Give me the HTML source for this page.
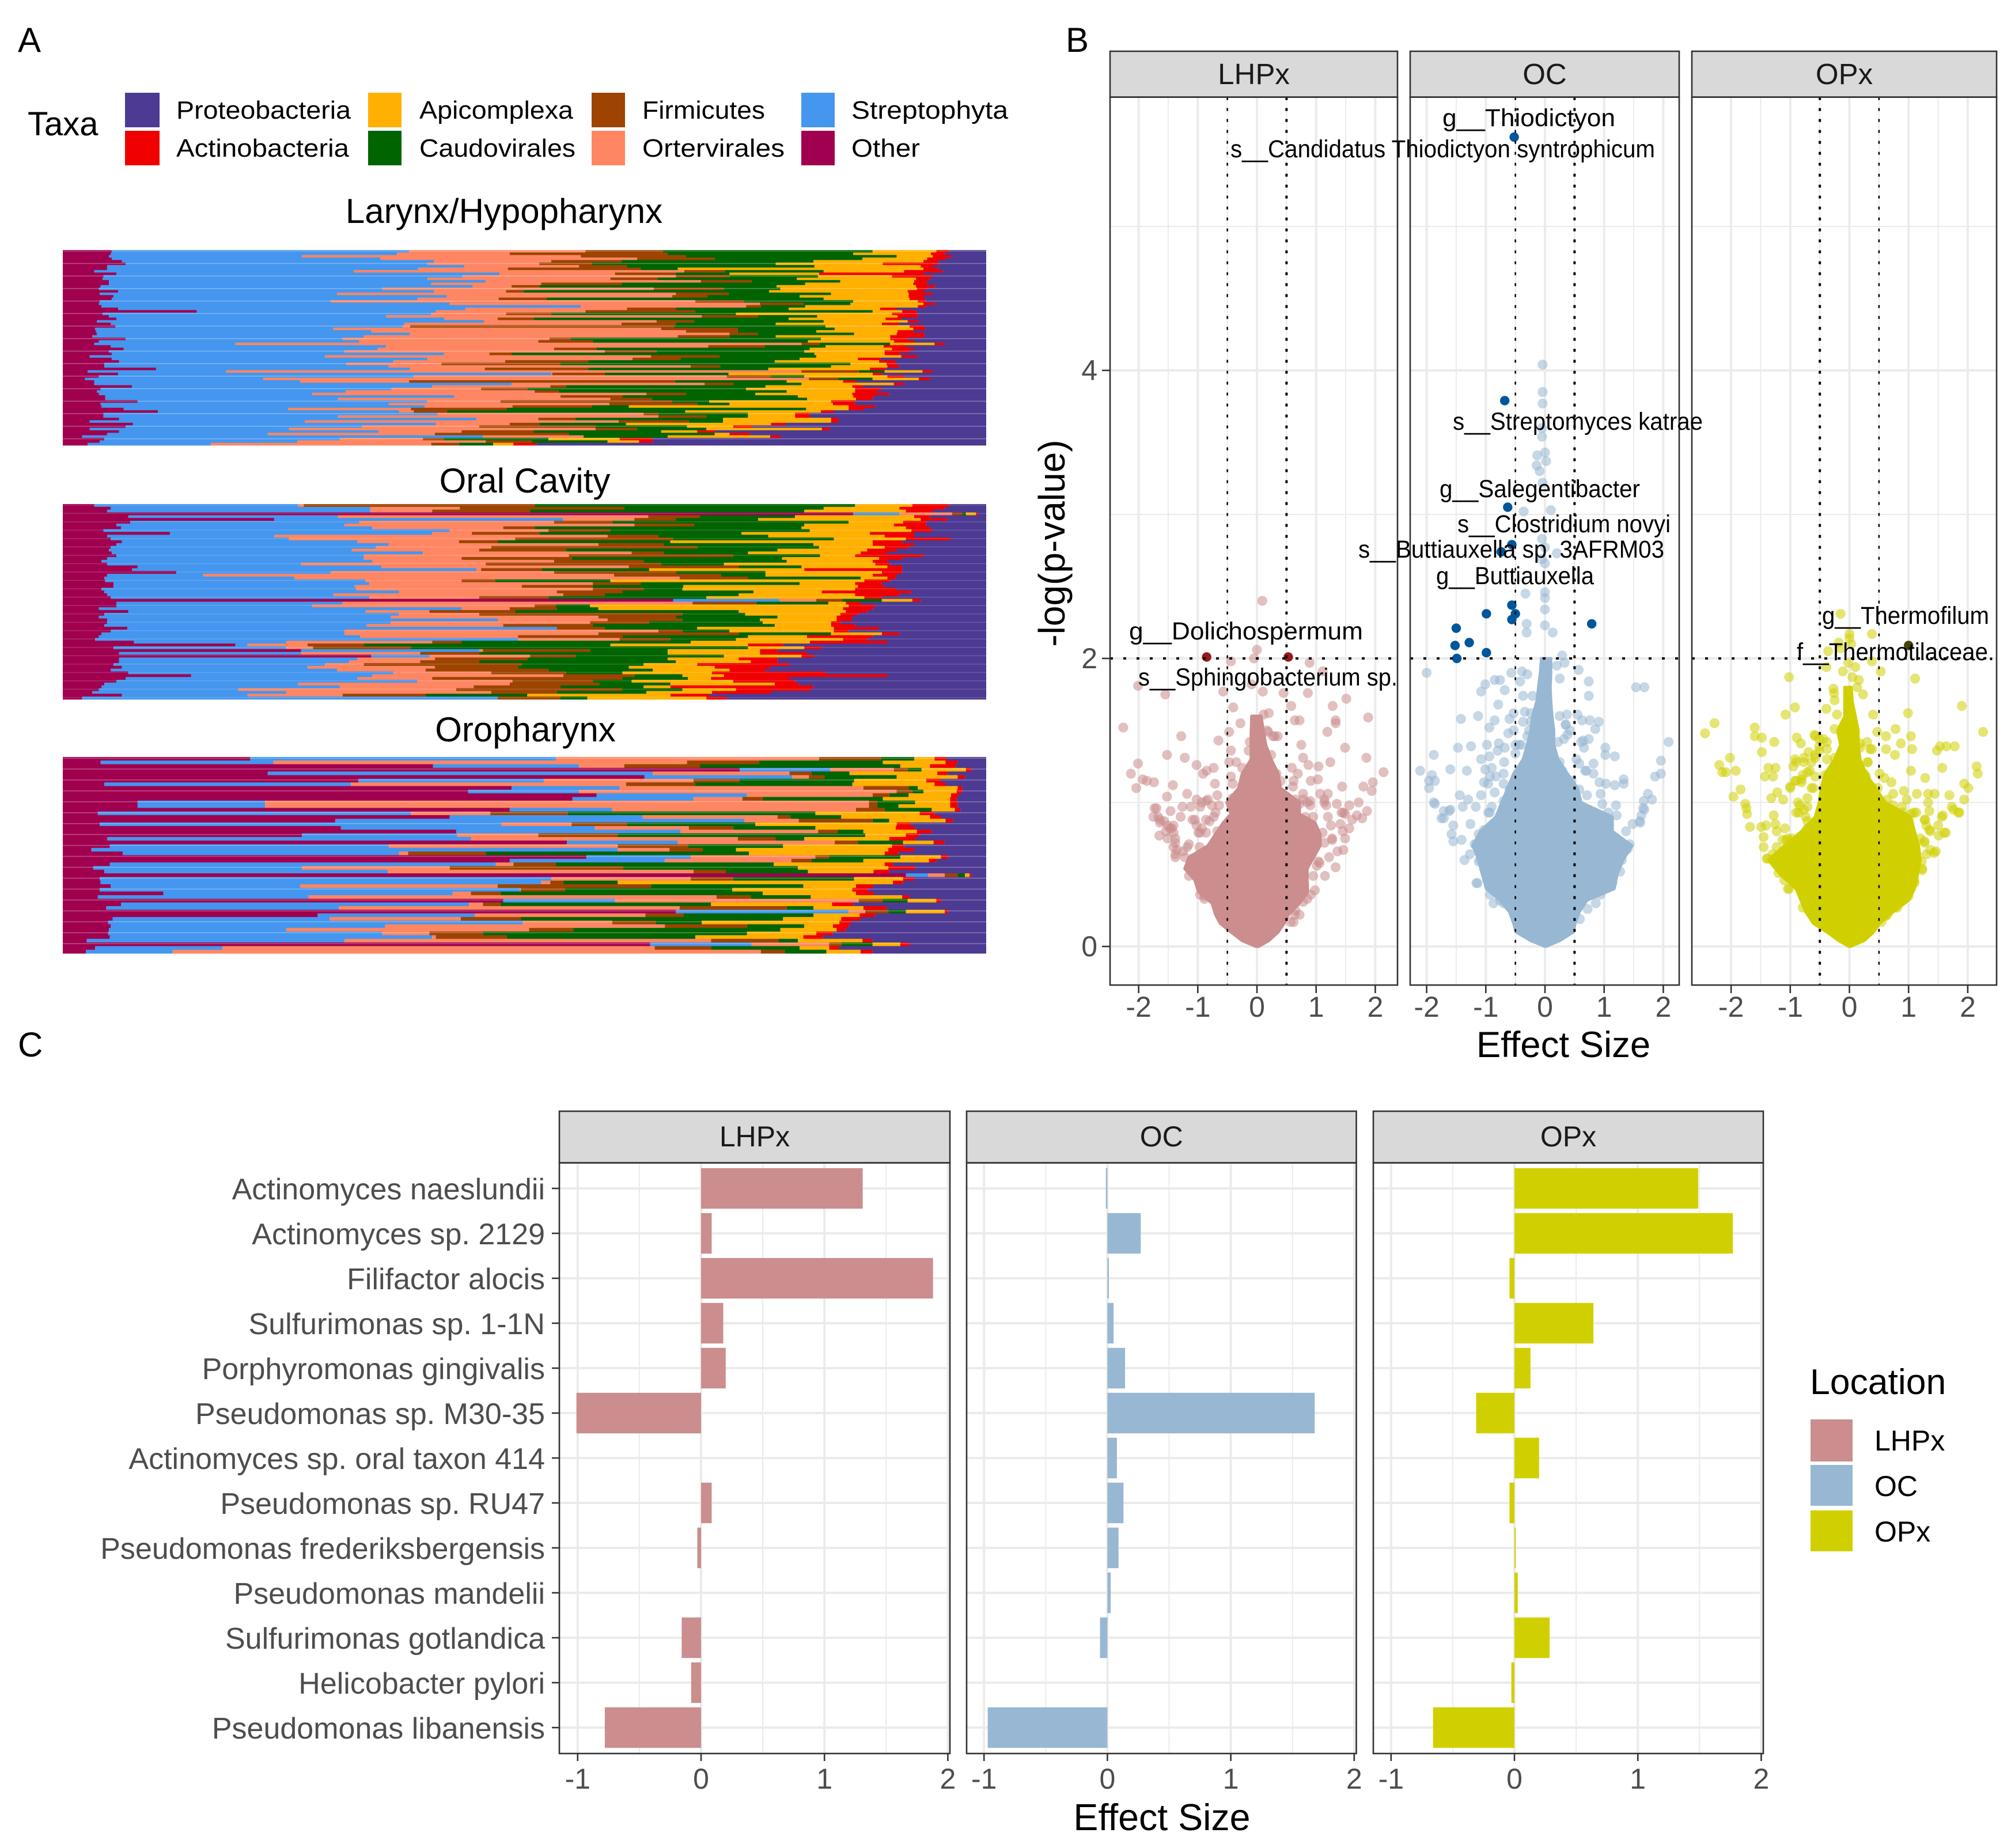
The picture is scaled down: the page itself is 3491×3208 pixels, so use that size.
<!DOCTYPE html>
<html lang="en">
<head>
<meta charset="utf-8">
<title>Taxa composition, volcano plots and effect sizes</title>
<style>
html,body{margin:0;padding:0;background:#fff}
svg{display:block}
text{font-family:"Liberation Sans",sans-serif}
</style>
</head>
<body>
<svg id="fig" xmlns="http://www.w3.org/2000/svg" width="3491" height="3208" viewBox="0 0 3491 3208">
<rect x="0" y="0" width="3491" height="3208" fill="#fff"/>
<g id="panelA"></g>
<g id="panelB"></g>
<g id="panelC"></g>

<text x="31" y="90" font-size="60" fill="#000">A</text>
<text x="1850" y="90" font-size="60" fill="#000">B</text>
<text x="31" y="1834" font-size="60" fill="#000">C</text>

<g font-size="44" fill="#000">
<text x="48" y="235" font-size="58">Taxa</text>
<rect x="217" y="161" width="60" height="60" fill="#4d3a92"/>
<rect x="217" y="227" width="60" height="60" fill="#f00000"/>
<rect x="639" y="161" width="58" height="60" fill="#ffb000"/>
<rect x="639" y="227" width="58" height="60" fill="#006400"/>
<rect x="1027" y="161" width="58" height="60" fill="#9c4400"/>
<rect x="1027" y="227" width="58" height="60" fill="#ff8662"/>
<rect x="1391" y="161" width="58" height="60" fill="#4496ee"/>
<rect x="1391" y="227" width="58" height="60" fill="#a0004f"/>
<text x="306" y="206" textLength="303" lengthAdjust="spacingAndGlyphs">Proteobacteria</text>
<text x="306" y="272" textLength="300" lengthAdjust="spacingAndGlyphs">Actinobacteria</text>
<text x="728" y="206" textLength="267" lengthAdjust="spacingAndGlyphs">Apicomplexa</text>
<text x="728" y="272" textLength="271" lengthAdjust="spacingAndGlyphs">Caudovirales</text>
<text x="1115" y="206" textLength="213" lengthAdjust="spacingAndGlyphs">Firmicutes</text>
<text x="1115" y="272" textLength="247" lengthAdjust="spacingAndGlyphs">Ortervirales</text>
<text x="1478" y="206" textLength="272" lengthAdjust="spacingAndGlyphs">Streptophyta</text>
<text x="1478" y="272" textLength="119" lengthAdjust="spacingAndGlyphs">Other</text>
</g>

<text x="875" y="387" font-size="60" text-anchor="middle" fill="#000">Larynx/Hypopharynx</text>
<text x="911" y="855" font-size="60" text-anchor="middle" fill="#000">Oral Cavity</text>
<text x="912" y="1287" font-size="60" text-anchor="middle" fill="#000">Oropharynx</text>

<text transform="translate(1848,943) rotate(-90)" font-size="64" text-anchor="middle" fill="#000">-log(p-value)</text>
<text x="2714" y="1835" font-size="63.5" text-anchor="middle" fill="#000">Effect Size</text>
<text x="2017" y="3177" font-size="64.5" text-anchor="middle" fill="#000">Effect Size</text>

<g font-size="43" fill="#000">
<text x="2504" y="219" textLength="300" lengthAdjust="spacingAndGlyphs">g__Thiodictyon</text>
<text x="2136" y="273" textLength="737" lengthAdjust="spacingAndGlyphs">s__Candidatus Thiodictyon syntrophicum</text>
<text x="2522" y="746" textLength="434" lengthAdjust="spacingAndGlyphs">s__Streptomyces katrae</text>
<text x="2499" y="863" textLength="348" lengthAdjust="spacingAndGlyphs">g__Salegentibacter</text>
<text x="2530" y="924" textLength="370" lengthAdjust="spacingAndGlyphs">s__Clostridium novyi</text>
<text x="2358" y="968" textLength="531" lengthAdjust="spacingAndGlyphs">s__Buttiauxella sp. 3AFRM03</text>
<text x="2493" y="1014" textLength="274" lengthAdjust="spacingAndGlyphs">g__Buttiauxella</text>
<text x="1960" y="1110" textLength="406" lengthAdjust="spacingAndGlyphs">g__Dolichospermum</text>
<text x="1976" y="1190" textLength="450" lengthAdjust="spacingAndGlyphs">s__Sphingobacterium sp.</text>
<text x="3163" y="1083" textLength="290" lengthAdjust="spacingAndGlyphs">g__Thermofilum</text>
<text x="3119" y="1146" textLength="343" lengthAdjust="spacingAndGlyphs">f__Thermotilaceae.</text>
</g>

<g fill="#000">
<text x="3142" y="2420" font-size="62.5">Location</text>
<rect x="3143" y="2464" width="73" height="73" fill="#cb8d8d"/>
<rect x="3143" y="2543" width="73" height="71" fill="#98b7d2"/>
<rect x="3143" y="2622" width="73" height="71" fill="#d0d000"/>
<text x="3254" y="2518" font-size="50">LHPx</text>
<text x="3254" y="2597" font-size="50">OC</text>
<text x="3254" y="2676" font-size="50">OPx</text>
</g>
</svg>

<script>
const taxaOrder = ['Other','Streptophyta','Ortervirales','Firmicutes','Caudovirales','Apicomplexa','Actinobacteria','Proteobacteria'];
const taxaColors = ['#a0004f','#4496ee','#ff8662','#9c4400','#006400','#ffb000','#f00000','#4d3a92'];

// Running composition per sample, per-mille, in taxaOrder; Proteobacteria fills the rest to 1000.
const larynxComposition = [
[53,375,566,650,877,946,960],[52,362,484,655,856,940,955],[50,259,561,675,903,942,963],[53,344,622,706,866,936,956],[64,402,529,605,813,932,948],[68,395,516,573,772,888,949],[48,435,559,611,814,929,942],[48,385,482,626,666,932,948],[34,315,673,717,824,911,953],[58,473,598,664,722,819,932],[44,433,664,722,818,898,942],[43,395,593,644,795,924,939],[50,458,691,746,842,922,936],[50,399,518,605,804,921,936],[41,444,486,516,773,924,945],
[39,346,640,716,777,925,936],[60,402,480,499,765,915,932],[40,297,664,721,832,916,942],[55,416,660,698,798,916,932],[53,384,472,524,824,917,934],[40,290,685,738,856,926,935],[39,419,755,802,853,932,945],[42,561,740,756,804,926,935],[60,436,611,664,786,885,903],[145,404,566,685,877,909,924],[43,399,480,529,729,898,926],[50,350,692,753,817,904,926],[58,413,471,510,786,891,908],[37,456,643,684,824,915,927],[52,370,605,664,772,887,905],[57,368,376,662,826,917,932],[35,293,648,731,836,921,934],[36,334,675,731,816,904,921],[37,376,722,753,857,903,933],[32,326,666,722,772,896,933],[68,303,527,550,821,896,915],[39,321,515,574,807,900,922],[34,187,800,820,896,944,955],[52,350,699,760,826,889,913],[66,341,532,578,809,898,922],[50,305,587,643,803,890,917],[53,413,462,486,814,890,906],[29,284,637,711,816,908,926],[53,395,617,669,798,861,885],[61,358,479,569,771,884,902],[45,307,410,539,853,892,903],[45,353,680,712,832,893,906],[101,376,457,569,764,874,891],[27,177,800,862,890,931,942],[60,529,530,587,721,877,887],[39,380,719,767,803,893,911],[24,217,808,840,877,927,939],[34,257,375,663,784,845,859],[34,486,695,726,800,900,911],[75,400,528,545,761,855,866],[41,356,453,503,740,858,887],[37,306,511,537,784,858,882],[39,270,632,675,750,855,895],[46,424,539,606,796,856,878],[46,298,593,638,806,859,877],[81,395,474,660,700,832,858],[41,353,592,687,722,834,858],[42,392,487,573,613,851,880],[66,244,377,481,805,851,868],[103,364,380,416,674,821,835],[44,406,629,645,742,793,809],[44,298,645,697,742,793,809],[61,448,515,555,715,832,840],[29,262,602,678,715,832,840],[76,404,484,516,610,767,783],[68,324,451,577,676,726,747],[29,245,577,622,697,822,831],[61,342,432,510,648,687,706],[48,222,403,548,706,722,744],[21,455,564,564,655,766,778],[45,300,390,413,526,603,639],[40,254,458,508,590,624,639],[27,160,399,429,466,488,513]
];
const oralComposition = [
[34,255,261,511,858,920,960],[52,333,430,608,824,906,955],[48,333,400,506,803,913,942],[856,906,963,974,978,989,991],[71,298,634,690,793,922,939],[229,542,619,664,753,929,958],[73,321,532,595,851,910,935],[58,305,619,684,803,900,935],[63,335,477,511,800,913,939],[44,419,526,593,809,919,942],[116,400,443,516,735,874,922],[48,229,590,645,764,890,922],[52,245,490,661,835,913,961],[64,319,429,471,658,877,909],[58,353,580,651,813,877,922],[52,339,464,687,819,890,916],[50,313,451,545,774,871,903],[53,390,616,651,742,864,893],[58,326,548,726,820,858,932],[48,326,432,551,779,884,909],[42,335,532,629,784,877,893],[48,258,458,648,716,880,896],[81,345,613,732,800,893,909],[75,448,453,519,635,803,909],[123,290,532,664,761,887,909],[48,152,597,713,761,877,903],[45,251,668,742,864,893,902],[46,328,432,468,593,868,896],[55,332,574,626,798,858,887],[55,316,497,574,672,861,890],[42,318,574,629,671,858,903],[45,364,535,606,748,822,919],[48,293,542,587,732,858,906],[52,332,451,526,697,868,887],[661,776,816,844,887,920,929],[58,303,682,751,829,848,864],[58,270,511,534,571,851,880],[39,432,484,535,580,845,877],[71,328,397,490,732,848,871],[45,364,451,671,739,842,861],[39,355,580,664,774,838,855],[48,471,590,671,755,838,855],[48,355,571,635,758,832,842],[45,329,477,574,771,832,858],[70,535,535,587,687,835,884],[52,305,645,671,722,835,851],[42,305,580,732,832,887,906],[39,322,493,606,742,806,877],[35,493,603,658,729,845,871],[77,242,400,432,680,809,893],[187,200,265,326,593,742,780],[55,242,271,377,742,803,822],[258,451,455,571,655,755,774],[61,258,387,451,655,755,806],[334,397,506,555,716,800,814],[61,319,403,503,655,732,774],[61,310,387,451,664,745,774],[55,284,326,497,629,687,787],[64,265,403,493,613,706,767],[52,297,393,526,639,722,761],[71,358,464,545,606,703,826],[139,335,542,619,671,716,893],[68,319,400,606,677,702,787],[58,384,487,574,616,726,793],[45,255,484,581,658,771,797],[42,300,445,539,629,658,813],[39,190,426,606,671,729,810],[32,242,464,535,632,703,767],[64,200,303,393,503,658,700],[21,471,471,539,568,697,719]
];
const oropharynxComposition = [
[203,534,819,886,922,944,957],[41,228,676,754,888,956,969],[401,559,608,690,907,939,967],[733,831,900,915,930,978,984],[222,639,787,811,852,947,958],[630,790,808,825,903,969,977],[320,521,683,733,857,935,951],[45,312,610,685,855,944,956],[486,603,867,916,926,969,974],[439,559,903,920,932,968,974],[578,741,877,895,916,962,970],[552,683,736,758,888,961,968],[81,219,873,882,923,961,969],[81,219,873,882,905,961,969],[484,595,859,890,941,966,972],[38,377,463,547,815,928,944],[419,628,774,788,843,939,951],[295,738,797,877,895,956,964],[40,475,551,611,750,903,918],[301,576,678,726,815,902,923],[426,669,818,839,867,925,941],[259,427,515,601,869,913,928],[48,442,731,772,803,895,923],[546,666,836,861,910,943,955],[51,353,601,677,780,898,911],[31,601,657,693,729,894,922],[65,364,374,458,743,890,905],[567,680,815,830,907,951,959],[484,652,789,811,867,938,946],[51,469,488,534,770,890,899],[33,259,419,607,796,894,923],[45,352,683,718,807,878,895],[913,937,955,969,977,982,984],[40,529,680,726,857,910,922],[41,518,528,542,601,899,910],[52,257,471,637,802,859,878],[40,495,496,544,725,855,872],[109,422,442,474,758,859,878],[38,266,708,745,810,909,917],[477,598,862,888,915,946,951],[63,440,455,474,702,833,856],[47,299,668,784,813,867,892],[664,851,869,894,913,955,959],[276,446,631,672,813,863,880],[54,289,431,496,780,843,864],[49,498,595,642,692,841,854],[52,349,652,741,803,834,851],[50,242,505,553,777,838,848],[49,346,397,455,741,816,834],[51,400,404,481,685,802,823],[26,305,702,775,796,866,877],[636,746,830,843,877,907,917],[35,173,641,702,798,830,840],[25,119,756,782,827,864,877]
];

// Volcano points: [effect size, -log(p)]
const lhpxPoints = [[.09,2.4],[0,2.06],[-.05,2],[-.44,1.98],[.89,1.97],[1.11,1.91],[-2.01,1.81],[-1.55,1.75],[-.57,1.77],[-.09,1.82],[.1,1.77],[.45,1.76],[.86,1.76],[1.51,1.72],[-.4,1.66],[.58,1.67],[1.28,1.67],[.11,1.61],[.2,1.62],[1.88,1.59],[-.28,1.55],[.64,1.57],[.72,1.57],[1.33,1.57],[1.33,1.55],[-2.26,1.52],[-.47,1.49],[1.19,1.49],[.19,1.49],[.3,1.46],[.35,1.46],[-1.28,1.46],[-.65,1.43],[.75,1.4],[1.49,1.38],[-.44,1.36],[-.14,1.36],[-1.52,1.33],[-1.22,1.31],[.78,1.31],[1.85,1.31],[-2.01,1.27],[-1.02,1.26],[-.35,1.28],[1.24,1.28],[.87,1.26],[-.47,1.28],[1.04,1.25],[.59,1.24],[-2.13,1.2],[-.73,1.24],[-.85,1.22],[-.91,1.2],[2.14,1.21],[-1.93,1.16],[-1.74,1.14],[-1.86,1.15],[-1.42,1.12],[-2.04,1.1],[-.71,1.13],[.69,1.2],[.62,1.15],[.61,1.11],[.91,1.15],[1.03,1.16],[1.44,1.11],[1.8,1.11],[1.96,1.14],[1.94,1.08],[-1.18,1.06],[-1.52,1.04],[.78,1.06],[1.07,1.06],[1.2,1.06],[1.14,1.02],[.9,1.01],[1.35,.99],[1.56,.98],[1.72,1],[-1.7,.96],[-1.26,.97],[-1.46,.94],[-1.12,.97],[-.93,1],[-1.02,1.02],[-.83,1.02],[-.67,1.05],[1.86,.94],[1.78,.89],[1.43,.93],[1.69,.91],[-1.75,.9],[-1.29,.9],[-1.64,.86],[-1.47,.82],[-1.41,.84],[-1.05,.88],[-.73,.9],[-.86,.88],[1.25,.84],[1.41,.85],[1.61,.88],[1.56,.82],[1.45,.8],[-1.65,.77],[-1.51,.75],[-1.38,.75],[-.96,.79],[1.49,.75],[1.27,.74],[-1.41,.69],[-1.38,.64],[-1.18,.69],[-.97,.69],[1.46,.67],[1.36,.66],[1.22,.62],[1.06,.58],[1.33,.55],[.95,.49],[1.15,.49],[.98,.39],[.85,.33],[.64,.22],[.57,.17],[-1.15,.49],[-.89,.33],[-.57,.18],
[-1.73,.96],[-1.67,.9],[-1.57,.87],[-1.51,.84],[-1.44,.82],[-1.54,.8],[-1.64,.88],[-1.41,.79],[-1.38,.72],[-1.35,.67],[-1.25,.66],[-1.15,.71],[-1.22,.62],[-1.38,.62],[-1.09,.56],[-.96,.44],[-1.09,.61],[-1.02,.57],[-.89,.35],[-.96,.36],[-1.09,.88],[-1.02,.84],[-.93,.82],[-.99,.79],[-.86,.79],[-.8,.87],[-.7,.93],[-.64,.98],[-.76,.98],[-.86,1.01],[-.96,.97],[-.67,.8],[-.6,.75],[1.14,1],[1.17,.98],[1.2,.9],[1.46,.93],[1.49,.92],[1.27,.75],[1.11,.79],[1.14,.72],[1.04,.59],[1.01,.56],[.91,.36],[.78,.31],[.65,.25],[.72,.22],[.62,.17],[.85,1],[.9,.98],[.82,.9],[.95,.9],[.65,1.02],[.72,.99],[.78,1.02],[-.44,1.18],[-.41,1.13],[-.25,1.24],[-.18,1.2],[.24,1.23],[.33,1.2],[.4,1.15],[.27,1.16],[-.25,1.11],[-.41,1.03],[-.31,1.02],[.17,1.5],[.27,1.46],[.14,1.34],[.24,1.33],[-.12,1.42],[.07,1.46]];
const ocPoints = [[-.04,4.04],[-.04,3.85],[-.04,3.77],[-.05,3.6],[-.05,3.54],[-.13,3.41],[0,3.43],[.02,3.37],[-.14,3.34],[-.09,3.3],[-.04,3.22],[-.36,3.02],[.1,3.03],[-.05,2.83],[0,2.77],[.2,2.73],[-.05,2.69],[0,2.66],[-.33,2.45],[0,2.46],[0,2.42],[0,2.34],[-.31,2.24],[-.31,2.18],[0,2.23],[.13,2.18],[-2,1.9],[-.39,1.91],[-.57,1.9],[-.3,1.89],[.57,1.92],[.29,2.02],[.33,1.97],[.2,1.95],[.25,1.86],[.74,1.84],[-.76,1.85],[-.85,1.85],[-1.01,1.82],[-.42,1.84],[-.68,1.78],[-1.08,1.77],[1.54,1.8],[1.68,1.8],[.74,1.74],[-.37,1.74],[-.21,1.74],[-.79,1.68],[-1.42,1.58],[-1.13,1.6],[-.85,1.57],[-.94,1.52],[-.6,1.58],[-.53,1.62],[-.34,1.63],[-.24,1.62],[.37,1.61],[.55,1.61],[.63,1.57],[.76,1.57],[.91,1.56],[.85,1.51],[.35,1.54],[-.27,1.5],[-.62,1.48],[-.53,1.5],[.38,1.47],[.65,1.43],[.74,1.44],[.66,1.38],[2.09,1.42],[1.02,1.38],[1.02,1.33],[1.18,1.32],[1.96,1.29],[1.96,1.2],[1.86,1.18],[-1.47,1.38],[-1.25,1.39],[-.98,1.4],[-.78,1.41],[-.68,1.38],[-.8,1.36],[-.44,1.4],[-1.88,1.33],[-.94,1.32],[-1.08,1.3],[-.69,1.28],[.82,1.27],[.58,1.27],[.7,1.22],[.82,1.2],[-2.11,1.22],[-1.91,1.19],[-1.6,1.23],[-1.32,1.22],[-1.01,1.23],[-.93,1.18],[-1.96,1.15],[-1.86,1.15],[-1.96,1.1],[.92,1.14],[1.03,1.13],[1.18,1.12],[1.33,1.16],[1.33,1.13],[-1.03,1.14],[-.85,1.07],[-1.08,1.05],[-1.44,1.05],[1.74,1.06],[1.81,1.02],[1.67,1.01],[1.66,.96],[.94,1.06],[-1.86,.99],[-1.3,1.02],[-1.39,.97],[-1.17,.97],[-1.6,.95],[-1.71,.94],[-1.71,.89],[-1.55,.84],[-.9,.97],[-.96,.93],[-.68,.97],[1.2,.98],[1.21,.91],[1.07,.93],[.66,.96],[-1.26,.85],[-1.12,.78],[-1.58,.78],[-1.55,.73],[-1.41,.74],[-1.16,.71],[-1.27,.64],[-1.36,.6],[-1.12,.59],[1.63,.91],[1.61,.86],[1.48,.85],[1.37,.8],[1.4,.68],[1.27,.63],[1.2,.56],[1.14,.44],[.94,.36],[.86,.3],[.72,.26],[.59,.19],[-1.14,.44],[-.93,.36],[-.87,.3],
[-1.88,1],[-1.62,.94],[-1.75,.89],[-1.19,.71],[-1.06,.69],[-.93,.67],[-1.03,.81],[-.9,.79],[-1.09,.6],[-1.03,.54],[-1.16,.44],[-.93,.42],[-.76,.32],[-.7,.3],[-.93,.93],[-.8,.87],[-.63,.97],[-.7,1.01],[-.83,1.18],[-.96,1.13],[-.9,1.24],[-.7,1.2],[-.6,1.09],[-.7,1.13],[-.5,1.34],[-.4,1.4],[-.37,1.24],[-.24,1.56],[-.3,1.46],[-.37,1.56],[-.5,1.4],[.22,1.42],[.32,1.44],[.42,1.5],[.25,1.28],[.29,1.22],[.45,1.15],[.58,1.09],[.71,1.05],[.97,.99],[1.04,.85],[1.1,.77],[.97,.81],[1.3,.6],[1.27,.52],[1.1,.48],[1.04,.44],[1.37,.67],[1.43,.71],[1.6,.87],[1.68,.95],[.61,.93],[.78,.89],[.94,.71],[.25,1.6],[.35,1.54],[.61,1.42],[.53,1.3],[.68,1.22]];
const opxPoints = [[-.15,2.31],[.38,2.17],[0,2.17],[0,2.14],[-.18,2.11],[.03,2.1],[-.15,2.07],[-.36,2.05],[.38,1.98],[-.02,1.97],[.1,1.94],[-.39,1.94],[-.11,1.91],[.53,1.91],[-1.02,1.87],[.05,1.87],[.16,1.85],[1.11,1.86],[.13,1.8],[-.27,1.79],[-.26,1.76],[.23,1.75],[-.25,1.71],[-.39,1.65],[-.92,1.66],[-1.08,1.61],[-.21,1.61],[.4,1.61],[.99,1.62],[1.9,1.67],[-2.28,1.55],[-2.44,1.48],[-1.6,1.52],[-1.6,1.46],[-1.48,1.45],[-1.27,1.42],[-1.48,1.35],[2.26,1.49],[-.25,1.51],[.47,1.49],[.78,1.51],[.62,1.46],[1.04,1.46],[.87,1.41],[.62,1.37],[1.06,1.37],[.77,1.33],[1.48,1.36],[1.53,1.39],[1.64,1.39],[1.78,1.39],[-.89,1.45],[-.59,1.47],[-.82,1.41],[-.51,1.44],[.3,1.42],[.38,1.37],[.18,1.38],[-2.02,1.31],[-2.2,1.26],[-2.15,1.21],[-2.09,1.21],[-1.92,1.22],[-1.37,1.24],[-1.25,1.24],[-1.43,1.18],[-1.29,1.18],[-.92,1.3],[-.95,1.25],[-.69,1.35],[-.58,1.33],[-.77,1.28],[-.38,1.3],[.31,1.28],[1.04,1.22],[1.57,1.24],[2.15,1.25],[2.17,1.2],[1.28,1.17],[.51,1.2],[.59,1.17],[.71,1.14],[-.67,1.22],[-.79,1.19],[-.41,1.19],[.25,1.19],[1.94,1.13],[2.01,1.1],[-1.84,1.09],[-1.96,1.04],[-.92,1.15],[-1,1.11],[-.81,1.14],[-1.22,1.07],[-1.32,1.03],[-1.12,1.02],[-.61,1.1],[.92,1.08],[.74,1.06],[1.14,1.06],[1.33,1.06],[1.44,1.06],[1.69,1.05],[1.94,1.02],[-1.76,.99],[-1.74,.96],[-1.73,.92],[-.87,1],[-.71,.97],[-.86,.93],[.97,1.02],[1.33,1],[.89,.97],[1.09,.93],[1.35,.94],[1.73,.97],[1.84,.93],[1.58,.91],[-1.28,.91],[1.28,.88],[-.71,.87],[1.5,.84],[-1.41,.84],[-1.49,.83],[-1.68,.83],[-1.25,.85],[-1.23,.8],[-1.09,.82],[1.35,.81],[1.6,.79],[1.51,.77],[-1.45,.76],[-1.45,.69],[-.97,.75],[-1.07,.74],[-.82,.74],[1.27,.73],[1.43,.65],[1.22,.59],[1.23,.53],[-1.38,.61],[-1.2,.51],[-1.02,.4],[1.1,.46],[.97,.35],[.77,.27],[.61,.21],[.54,.17],[-.79,.27],
[-1,1.1],[-.9,1.15],[-.81,1.16],[-.71,1.21],[-.64,1.28],[-.77,1.31],[-.9,1.28],[-.58,1.31],[-.51,1.39],[-.38,1.37],[-.25,1.31],[-.58,1.18],[-.64,1.1],[-.71,1.03],[-.84,.98],[-.77,.95],[-.9,.93],[-.74,.9],[-.71,.82],[-1.04,.75],[-.97,.72],[-1.13,.74],[-1.23,.69],[-1.3,.64],[-1.4,.61],[-1.1,.46],[-1.04,.4],[.64,1.02],[.74,.98],[.9,.93],[1.04,.92],[1.13,.93],[1.27,.88],[1.3,.84],[1.37,.8],[1.56,.9],[1.76,.95],[1.86,.93],[1.63,.79],[1.46,.66],[1.37,.67],[1.27,.72],[1.2,.75],[1.3,.64],[1.23,.54],[1.1,.44],[1,.35],[.81,.27],[.64,.22],[-.44,1.44],[-.38,1.42],[-.58,1.46],[-.51,1.36],[.35,1.37],[.18,1.41],[.28,1.18],[.25,1.2],[.31,1.28],[.38,1.11],[.48,1.1]];

// Significant (dark) points: [effect size, -log(p)]
const lhpxSignificant = [[-.85,2.01],[.53,2.01]];
const ocSignificant = [[-.52,5.62],[-.68,3.79],[-.63,3.05],[-.56,2.79],[-.74,2.74],[-.56,2.37],[-.99,2.31],[-.5,2.31],[-.56,2.27],[.79,2.24],[-1.5,2.21],[-1.28,2.11],[-1.52,2.09],[-.99,2.04],[-1.49,2]];
const opxSignificant = [[1,2.09]];

// Overplotted core of each cloud: the -log(p) levels and the effect-size extent at each level
const lhpxCoreLogP = [0,.04,.1,.16,.22,.3,.38,.46,.54,.62,.7,.78,.86,.92,1,1.1,1.2,1.3,1.4,1.47,1.6];
const lhpxCoreLow = [-.02,-.25,-.44,-.62,-.7,-.76,-.99,-1.05,-1.22,-1.15,-.83,-.7,-.57,-.44,-.51,-.31,-.25,-.1,-.1,-.1,-.09];
const lhpxCoreHigh = [.03,.2,.36,.46,.53,.72,.86,.85,.85,.96,1.07,1.07,.98,.72,.72,.4,.36,.24,.15,.12,.07];
const ocCoreLogP = [0,.04,.1,.16,.24,.32,.4,.5,.6,.7,.8,.9,1,1.1,1.2,1.3,1.4,1.5,1.6,1.7,1.8,1.9,2];
const ocCoreLow = [0,-.24,-.49,-.53,-.6,-.76,-.99,-1.06,-1.12,-1.22,-1.09,-.83,-.73,-.63,-.53,-.37,-.3,-.24,-.21,-.14,-.11,-.08,-.06];
const ocCoreHigh = [.02,.25,.48,.51,.58,.71,1.17,1.22,1.32,1.47,1.14,1.14,.61,.55,.38,.22,.15,.15,.12,.1,.09,.1,.1];
const opxCoreLogP = [0,.04,.1,.16,.24,.32,.4,.5,.6,.7,.8,.9,1,1.1,1.2,1.3,1.4,1.5,1.6,1.7,1.8];
const opxCoreLow = [-.01,-.18,-.38,-.61,-.74,-.82,-.9,-1.17,-1.37,-1.1,-.81,-.58,-.51,-.48,-.41,-.25,-.15,-.2,-.08,-.08,-.08];
const opxCoreHigh = [.02,.25,.41,.51,.74,1,1.1,1.15,1.2,1.17,1.1,1.04,.61,.44,.28,.18,.15,.15,.1,.05,.03];

const facetNames = ['LHPx','OC','OPx'];
const volcanoXTicks = [-2,-1,0,1,2];
const volcanoYTicks = [0,2,4];
const barXTicks = [-1,0,1,2];
const speciesNames = ['Actinomyces naeslundii','Actinomyces sp. 2129','Filifactor alocis','Sulfurimonas sp. 1-1N','Porphyromonas gingivalis','Pseudomonas sp. M30-35','Actinomyces sp. oral taxon 414','Pseudomonas sp. RU47','Pseudomonas frederiksbergensis','Pseudomonas mandelii','Sulfurimonas gotlandica','Helicobacter pylori','Pseudomonas libanensis'];
const lhpxEffects = [1.31,.086,1.88,.18,.2,-1.01,0,.086,-.03,0,-.157,-.08,-.78];
const ocEffects = [-.012,.27,.012,.05,.143,1.68,.077,.13,.09,.027,-.06,0,-.97];
const opxEffects = [1.49,1.77,-.04,.64,.13,-.31,.2,-.04,.01,.027,.285,-.025,-.66];

const NS = 'http://www.w3.org/2000/svg';
function mk(parent, tag, attrs) {
  const el = document.createElementNS(NS, tag);
  for (const k in attrs) el.setAttribute(k, attrs[k]);
  parent.appendChild(el);
  return el;
}

/* ---------- Panel A ---------- */
const panelA = document.getElementById('panelA');
const xComposition = v => 109 + v / 1000 * 1603;
function drawStack(rows, top, bottom, name, paleEvery, paleOpacity) {
  const g = mk(panelA, 'g', {});
  
  
  const h = (bottom - top) / rows.length;
  rows.forEach((row, i) => {
    const y = top + i * h;
    let start = 0;
    for (let t = 0; t < taxaOrder.length; t++) {
      const end = t < row.length ? row[t] : 1000;
      if (end > start) {
        const r = mk(g, 'rect', {x: xComposition(start), y: y, width: xComposition(end) - xComposition(start), height: h + .4, fill: taxaColors[t]});
        
        
      }
      start = Math.max(start, end);
    }
    if (i % paleEvery === 0) {
      const line = mk(g, 'rect', {x: 109, y: y + h * .2, width: 1603, height: 1.6, fill: '#fff', opacity: paleOpacity});
      
      
    }
  });
}
drawStack(larynxComposition, 434, 773, 'larynx', 5, .3);
drawStack(oralComposition, 875, 1214, 'oral-cavity', 3, .16);
drawStack(oropharynxComposition, 1314, 1655, 'oropharynx', 3, .3);

/* ---------- Shared facet furniture ---------- */
function facetFrame(parent, name, left, right, stripTop, stripBottom, panelBottom, labelY, fs) {
  const strip = mk(parent, 'rect', {x: left, y: stripTop, width: right - left, height: stripBottom - stripTop, fill: '#d9d9d9', stroke: '#333', 'stroke-width': 2.6});
  
  
  const t = mk(parent, 'text', {x: (left + right) / 2, y: labelY, 'font-size': fs, 'text-anchor': 'middle', fill: '#1a1a1a'});
  t.textContent = name;
  
  
  const border = mk(parent, 'rect', {x: left, y: stripBottom, width: right - left, height: panelBottom - stripBottom, fill: 'none', stroke: '#333', 'stroke-width': 2.6});
  
  
}
function gridLine(parent, x1, y1, x2, y2, w) {
  const l = mk(parent, 'line', {x1: x1, y1: y1, x2: x2, y2: y2, stroke: '#ebebeb', 'stroke-width': w});
  
  
}
function tickMark(parent, x1, y1, x2, y2) {
  const l = mk(parent, 'line', {x1: x1, y1: y1, x2: x2, y2: y2, stroke: '#333', 'stroke-width': 2.6});
  
  
}
function tickText(parent, x, y, str, anchor, fs) {
  const t = mk(parent, 'text', {x: x, y: y, 'text-anchor': anchor, 'font-size': fs, fill: '#4d4d4d'});
  t.textContent = str;
  
  
}

/* ---------- Panel B ---------- */
const panelB = document.getElementById('panelB');
const yLogP = p => 1643 - 250 * p;
const STRIP_B_TOP = 89, STRIP_B_BOTTOM = 168.6, PANEL_B_BOTTOM = 1710;
const volcanoFacets = [
  {left: 1927, right: 2426, zero: 2182, pts: lhpxPoints, sig: lhpxSignificant, coreP: lhpxCoreLogP, coreL: lhpxCoreLow, coreH: lhpxCoreHigh, fill: '#cb8d8d', dark: '#981a1a'},
  {left: 2448, right: 2915, zero: 2682, pts: ocPoints, sig: ocSignificant, coreP: ocCoreLogP, coreL: ocCoreLow, coreH: ocCoreHigh, fill: '#98b7d2', dark: '#00569b'},
  {left: 2937, right: 3466, zero: 3210.5, pts: opxPoints, sig: opxSignificant, coreP: opxCoreLogP, coreL: opxCoreLow, coreH: opxCoreHigh, fill: '#d0d000', dark: '#45450b'}
];
volcanoFacets.forEach((f, idx) => {
  const name = facetNames[idx];
  const x = v => f.zero + 102.7 * v;
  const g = mk(panelB, 'g', {});
  
  
  const clipId = 'clipB' + idx;
  const defs = mk(g, 'defs', {});
  const cp = mk(defs, 'clipPath', {id: clipId});
  mk(cp, 'rect', {x: f.left, y: STRIP_B_BOTTOM, width: f.right - f.left, height: PANEL_B_BOTTOM - STRIP_B_BOTTOM});
  [-1.5, -.5, .5, 1.5].forEach(v => gridLine(g, x(v), STRIP_B_BOTTOM, x(v), PANEL_B_BOTTOM, 2));
  volcanoXTicks.forEach(v => gridLine(g, x(v), STRIP_B_BOTTOM, x(v), PANEL_B_BOTTOM, 4));
  [1, 3, 5].forEach(v => gridLine(g, f.left, yLogP(v), f.right, yLogP(v), 2));
  volcanoYTicks.forEach(v => gridLine(g, f.left, yLogP(v), f.right, yLogP(v), 4));
  const marks = mk(g, 'g', {'clip-path': 'url(#' + clipId + ')'});
  
  
  f.pts.forEach(pt => {
    const c = mk(marks, 'circle', {cx: x(pt[0]), cy: yLogP(pt[1]), r: 8.6, fill: f.fill, opacity: .55});
    
    
  });
  const left = f.coreP.map((p, i) => x(f.coreL[i]) + ',' + yLogP(p));
  const right = f.coreP.map((p, i) => x(f.coreH[i]) + ',' + yLogP(p)).reverse();
  const core = mk(marks, 'polygon', {points: left.concat(right).join(' '), fill: f.fill, stroke: f.fill, 'stroke-width': 5, 'stroke-linejoin': 'round'});
  
  
  f.sig.forEach(pt => {
    const c = mk(marks, 'circle', {cx: x(pt[0]), cy: yLogP(pt[1]), r: 8.2, fill: f.dark});
    
    
  });
  [-.5, .5].forEach(v => {
    const l = mk(g, 'line', {x1: x(v), y1: STRIP_B_BOTTOM, x2: x(v), y2: PANEL_B_BOTTOM, stroke: '#000', 'stroke-width': idx === 2 && v < 0 || idx !== 2 && v > 0 ? 4 : 2.6, 'stroke-dasharray': '5 14'});
    
    
  });
  const hl = mk(g, 'line', {x1: f.left, y1: yLogP(2), x2: f.right, y2: yLogP(2), stroke: '#000', 'stroke-width': 4, 'stroke-dasharray': '5 18'});
  
  
  facetFrame(g, name, f.left, f.right, STRIP_B_TOP, STRIP_B_BOTTOM, PANEL_B_BOTTOM, 146, 51);
  volcanoXTicks.forEach(v => {
    tickMark(g, x(v), PANEL_B_BOTTOM, x(v), PANEL_B_BOTTOM + 14);
    tickText(g, x(v), 1765, String(v), 'middle', 50);
  });
  if (idx === 0) {
    volcanoYTicks.forEach(v => {
      tickMark(g, f.left - 14, yLogP(v), f.left, yLogP(v));
      tickText(g, f.left - 22, yLogP(v) + 17, String(v), 'end', 50);
    });
  }
});

/* ---------- Panel C ---------- */
const panelC = document.getElementById('panelC');
const yRow = i => 2063 + 78 * i;
const STRIP_C_TOP = 1929, STRIP_C_BOTTOM = 2018.6, PANEL_C_BOTTOM = 3044;
const barFacets = [
  {left: 971, right: 1649, zero: 1217, values: lhpxEffects, fill: '#cb8d8d'},
  {left: 1678, right: 2354.5, zero: 1922.4, values: ocEffects, fill: '#98b7d2'},
  {left: 2384, right: 3061, zero: 2629, values: opxEffects, fill: '#d0d000'}
];
barFacets.forEach((f, idx) => {
  const name = facetNames[idx];
  const x = v => f.zero + 214.2 * v;
  const g = mk(panelC, 'g', {});
  
  
  [-.5, .5, 1.5].forEach(v => gridLine(g, x(v), STRIP_C_BOTTOM, x(v), PANEL_C_BOTTOM, 2));
  barXTicks.forEach(v => gridLine(g, x(v), STRIP_C_BOTTOM, x(v), PANEL_C_BOTTOM, 4));
  speciesNames.forEach((s, i) => gridLine(g, f.left, yRow(i), f.right, yRow(i), 4));
  f.values.forEach((v, i) => {
    const x0 = Math.min(x(0), x(v));
    const r = mk(g, 'rect', {x: x0, y: yRow(i) - 35.2, width: Math.abs(x(v) - x(0)), height: 70.4, fill: f.fill});
    
    
  });
  facetFrame(g, name, f.left, f.right, STRIP_C_TOP, STRIP_C_BOTTOM, PANEL_C_BOTTOM, 1990, 50);
  barXTicks.forEach(v => {
    tickMark(g, x(v), PANEL_C_BOTTOM, x(v), PANEL_C_BOTTOM + 13);
    tickText(g, x(v), 3105, String(v), 'middle', 50);
  });
  if (idx === 0) {
    speciesNames.forEach((s, i) => {
      tickMark(g, f.left - 13, yRow(i), f.left, yRow(i));
      tickText(g, f.left - 25, yRow(i) + 19, s, 'end', 52);
    });
  }
});
</script>
</body>
</html>
